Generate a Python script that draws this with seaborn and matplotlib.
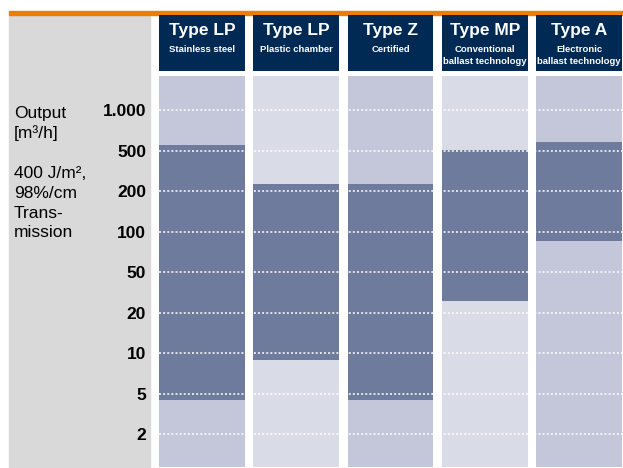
import numpy as np
import pandas as pd
import matplotlib
matplotlib.use("Agg")
import matplotlib.pyplot as plt
import seaborn as sns
from matplotlib.patches import Rectangle

# data (m3/h)
models = ["Type LP", "Type LP", "Type Z", "Type MP", "Type A"]
variants = ["Stainless steel", "Plastic chamber", "Certified",
            "Conventional\nballast technology", "Electronic\nballast technology"]
flow_max = [555, 238, 238, 505, 580]
flow_min = [4.3, 8.9, 4.3, 26, 86]
tick_values = [1000, 500, 200, 100, 50, 20, 10, 5, 2]
tick_labels = ["1.000", "500", "200", "100", "50", "20", "10", "5", "2"]
side_top = ["Output", "[m\u00b3/h]"]
side_bottom = ["400 J/m\u00b2,", "98%/cm", "Trans-", "mission"]

ORANGE = "#EC7D05"
GREY = "#D9D9D9"
NAVY = "#002A54"
DARK = "#6E7B9C"
BG = ["#C4C6D9", "#D9DBE6", "#C4C6D9", "#D9DBE6", "#C4C6D9"]

W, H = 623, 468

sns.set_theme(style="white")
plt.rcParams["font.family"] = ["Liberation Sans", "DejaVu Sans"]
plt.rcParams["text.color"] = "black"

# the output axis is evenly spaced between its marked values
LT = np.log10(sorted(tick_values))
IDX = np.arange(len(LT), dtype=float)


def fwd(v):
    lv = np.log10(np.clip(np.asarray(v, dtype=float), 1e-6, None))
    pos = np.interp(lv, LT, IDX)
    pos = np.where(lv < LT[0], (lv - LT[0]) / (LT[1] - LT[0]), pos)
    pos = np.where(lv > LT[-1], IDX[-1] + (lv - LT[-1]) / (LT[-1] - LT[-2]), pos)
    return pos


def inv(p):
    p = np.asarray(p, dtype=float)
    lv = np.interp(p, IDX, LT)
    lv = np.where(p < 0, LT[0] + p * (LT[1] - LT[0]), lv)
    lv = np.where(p > IDX[-1], LT[-1] + (p - IDX[-1]) * (LT[-1] - LT[-2]), lv)
    return 10 ** lv


def fx(x):
    return x / W


def fy(y):
    return 1 - y / H


keys = [f"{m}|{v}" for m, v in zip(models, variants)]
df = pd.DataFrame({"key": keys, "lo": flow_min, "hi": flow_max})
df["span"] = df["hi"] - df["lo"]

y_lo = float(inv(-0.816))
y_hi = float(inv(8.853))
df["full"] = y_hi - y_lo

fig = plt.figure(figsize=(W / 100, H / 100), dpi=100)
fig.patches.append(Rectangle((fx(9), fy(467)), fx(150 - 9), (467 - 15) / H,
                             transform=fig.transFigure, color=GREY, zorder=-2))
fig.patches.append(Rectangle((fx(9), fy(15)), fx(W - 9), 4 / H,
                             transform=fig.transFigure, color=ORANGE, zorder=-2))

bar_w = 0.91
ax = fig.add_axes([fx(159), fy(467), fx(622 - 159), (467 - 76) / H])
sns.barplot(data=df, x="key", y="full", bottom=y_lo, hue="key", palette=BG,
            width=bar_w, saturation=1, errorbar=None, legend=False,
            linewidth=0, ax=ax)
sns.barplot(data=df, x="key", y="span", bottom=df["lo"].values, color=DARK,
            width=bar_w, saturation=1, errorbar=None, linewidth=0, ax=ax)
ax.set_yscale("function", functions=(fwd, inv))
ax.set_ylim(y_lo, y_hi)
ax.set_xlim(-bar_w / 2, len(keys) - 1 + bar_w / 2)
for v in tick_values:
    ax.axhline(v, color="white", lw=1.1, ls=(0, (1.3, 1.4)), zorder=5)
ax.set_yticks(tick_values, tick_labels, fontweight="bold", fontsize=12.5)
ax.tick_params(axis="y", length=0, pad=9.4, colors="black")
ax.set_xticks([])
ax.set_xlabel("")
ax.set_ylabel("")
ax.patch.set_alpha(0)
for s in ax.spines.values():
    s.set_visible(False)

# column headers
hax = fig.add_axes([fx(159), fy(71), fx(622 - 159), (71 - 15) / H])
sns.barplot(x=keys, y=[1] * len(keys), color=NAVY, width=bar_w,
            saturation=1, errorbar=None, linewidth=0, ax=hax)
hax.set_ylim(0, 1)
hax.set_xlim(-bar_w / 2, len(keys) - 1 + bar_w / 2)
hax.axis("off")
for i, (m, v) in enumerate(zip(models, variants)):
    hax.text(i, (71 - 35) / 56, m, color="white", fontsize=12.5,
             fontweight="bold", ha="center", va="baseline")
    for j, line in enumerate(v.split("\n")):
        hax.text(i, (71 - 51.7 - j * 12.3) / 56, line, color="white",
                 fontsize=6.8, fontweight="bold", ha="center", va="baseline")

# axis description on the grey panel
for j, line in enumerate(side_top):
    fig.text(fx(14), fy(117.7 + j * 19.8), line, fontsize=12.5,
             color="black", va="baseline")
for j, line in enumerate(side_bottom):
    fig.text(fx(14), fy(178.5 + j * 19.6), line, fontsize=12.5,
             color="black", va="baseline")

fig.savefig("out.png", dpi=100)
